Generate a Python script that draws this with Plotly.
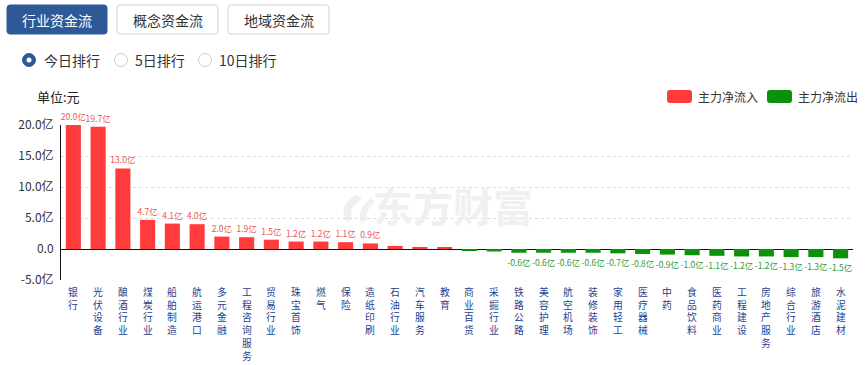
import plotly.graph_objects as go

# ---------------- data ----------------
categories = ["银行", "光伏设备", "酿酒行业", "煤炭行业", "船舶制造", "航运港口", "多元金融",
              "工程咨询服务", "贸易行业", "珠宝首饰", "燃气", "保险", "造纸印刷", "石油行业",
              "汽车服务", "教育", "商业百货", "采掘行业", "铁路公路", "美容护理", "航空机场",
              "装修装饰", "家用轻工", "医疗器械", "中药", "食品饮料", "医药商业", "工程建设",
              "房地产服务", "综合行业", "旅游酒店", "水泥建材"]
net_flow = [20.0, 19.7, 13.0, 4.7, 4.1, 4.0, 2.0, 1.9, 1.5, 1.2, 1.2, 1.1, 0.9, 0.5,
            0.3, 0.2, -0.3, -0.4, -0.6, -0.6, -0.6, -0.6, -0.7, -0.8, -0.9, -1.0, -1.1, -1.2,
            -1.2, -1.3, -1.3, -1.5]
hidden_labels = ["石油行业", "汽车服务", "教育", "商业百货", "采掘行业"]
ytick_vals = [-5, 0, 5, 10, 15, 20]
ytick_text = ["-5.0亿", "0.0", "5.0亿", "10.0亿", "15.0亿", "20.0亿"]
legend_names = ["主力净流入", "主力净流出"]
tab_names = ["行业资金流", "概念资金流", "地域资金流"]
radio_names = ["今日排行", "5日排行", "10日排行"]
unit_text = "单位:元"
watermark_text = "东方财富"

# ---------------- style ----------------
FONT = "Noto Sans CJK SC, Microsoft YaHei, sans-serif"
RED, GREEN = "#ff3b3b", "#0a920a"
RED_TXT, GREEN_TXT = "#ee5555", "#2f9a2f"
BLUE = "#2f5897"
W, H = 867, 365
L, R, T, B = 61, 14, 125, 85
PW, PH = W - L - R, H - T - B


def px(x):
    return (x - L) / PW


def py(y):
    return (H - B - y) / PH


def rrect(x0, y0, x1, y1, r):
    return (f"M {px(x0 + r)},{py(y0)} L {px(x1 - r)},{py(y0)} Q {px(x1)},{py(y0)} {px(x1)},{py(y0 + r)} "
            f"L {px(x1)},{py(y1 - r)} Q {px(x1)},{py(y1)} {px(x1 - r)},{py(y1)} "
            f"L {px(x0 + r)},{py(y1)} Q {px(x0)},{py(y1)} {px(x0)},{py(y1 - r)} "
            f"L {px(x0)},{py(y0 + r)} Q {px(x0)},{py(y0)} {px(x0 + r)},{py(y0)} Z")


colors = [RED if v >= 0 else GREEN for v in net_flow]
text_colors = [RED_TXT if v >= 0 else GREEN_TXT for v in net_flow]
texts = ["" if c in hidden_labels else f"{v:.1f}亿" for c, v in zip(categories, net_flow)]

fig = go.Figure()
fig.add_trace(go.Bar(
    x=categories, y=net_flow, marker=dict(color=colors, line=dict(width=0)),
    text=texts, textposition="outside", textfont=dict(size=8.5, color=text_colors, family=FONT),
    constraintext="none", cliponaxis=False, showlegend=False, hoverinfo="x+y",
))

shapes = []
annotations = []

# watermark (logo swirl + text)
shapes.append(dict(type="path", xref="paper", yref="paper", layer="below",
                   path=(f"M {px(356)},{py(195)} Q {px(338)},{py(204)} {px(346)},{py(222)} "
                         f"L {px(352)},{py(219)} Q {px(348)},{py(207)} {px(362)},{py(199)} Z "
                         f"M {px(371)},{py(198)} Q {px(356)},{py(210)} {px(361)},{py(223)} "
                         f"L {px(367)},{py(220)} Q {px(365)},{py(210)} {px(375)},{py(202)} Z"),
                   fillcolor="#f0f0f0", line=dict(width=0)))
annotations.append(dict(x=px(453), y=py(205), xref="paper", yref="paper", text=f"<b>{watermark_text}</b>",
                        showarrow=False, xanchor="center", yanchor="middle",
                        font=dict(size=40, color="#f0f0f0", family=FONT)))

# tabs
tab_boxes = [(7, 117, 228), (107, 218, 329)]
for i, name in enumerate(tab_names):
    x0, x1 = tab_boxes[0][i], tab_boxes[1][i]
    active = i == 0
    shapes.append(dict(type="path", xref="paper", yref="paper", path=rrect(x0, 5, x1, 34, 3),
                       fillcolor=BLUE if active else "white",
                       line=dict(color=BLUE if active else "#cfd3da", width=1)))
    annotations.append(dict(x=px((x0 + x1) / 2), y=py(20), xref="paper", yref="paper", text=name,
                            showarrow=False, xanchor="center", yanchor="middle",
                            font=dict(size=14, color="white" if active else "#333", family=FONT)))

# radios
radio_cx = [29, 121, 205]
radio_tx = [42, 133, 217]
for i, name in enumerate(radio_names):
    cx = radio_cx[i]
    r = 6.5
    if i == 0:
        shapes.append(dict(type="circle", xref="paper", yref="paper", x0=px(cx - r), x1=px(cx + r),
                           y0=py(60 + r), y1=py(60 - r), fillcolor=BLUE, line=dict(color=BLUE, width=1)))
        shapes.append(dict(type="circle", xref="paper", yref="paper", x0=px(cx - 2.5), x1=px(cx + 2.5),
                           y0=py(62.5), y1=py(57.5), fillcolor="white", line=dict(width=0)))
    else:
        shapes.append(dict(type="circle", xref="paper", yref="paper", x0=px(cx - r), x1=px(cx + r),
                           y0=py(60 + r), y1=py(60 - r), fillcolor="white", line=dict(color="#cccccc", width=1)))
    annotations.append(dict(x=px(radio_tx[i]), y=py(60), xref="paper", yref="paper", text=name,
                            showarrow=False, xanchor="left", yanchor="middle",
                            font=dict(size=14, color="#333", family=FONT)))

# unit
annotations.append(dict(x=px(35), y=py(96), xref="paper", yref="paper", text=unit_text, showarrow=False,
                        xanchor="left", yanchor="middle", font=dict(size=13, color="#222", family=FONT)))

# legend
leg_x = [667, 767]
for i, name in enumerate(legend_names):
    x0 = leg_x[i]
    shapes.append(dict(type="path", xref="paper", yref="paper", path=rrect(x0, 90, x0 + 25, 103, 3),
                       fillcolor=[RED, GREEN][i], line=dict(width=0)))
    annotations.append(dict(x=px(x0 + 29), y=py(96.5), xref="paper", yref="paper", text=name,
                            showarrow=False, xanchor="left", yanchor="middle",
                            font=dict(size=12, color="#333", family=FONT)))

# vertical category labels (one character per line, one text per category)
for cat in categories:
    annotations.append(dict(x=cat, xref="x", y=py(284), yref="paper", text="<br>".join(cat),
                            showarrow=False, xanchor="center", yanchor="top", align="center",
                            borderpad=0, font=dict(size=9.8, color="#1f3f8f", family=FONT)))

fig.update_layout(
    width=W, height=H, margin=dict(l=L, r=R, t=T, b=B, pad=0),
    paper_bgcolor="white", plot_bgcolor="white",
    bargap=0.39, font=dict(family=FONT),
    shapes=shapes, annotations=annotations, showlegend=False,
    xaxis=dict(type="category", showticklabels=False, showgrid=False, zeroline=False,
               showline=False, ticks="", range=[-0.5, len(categories) - 0.5]),
    yaxis=dict(range=[-5, 20], tickvals=ytick_vals, ticktext=ytick_text,
               tickfont=dict(size=12, color="#333", family=FONT),
               showgrid=True, gridcolor="#dddddd", griddash="dot", gridwidth=1,
               zeroline=True, zerolinecolor="#111111", zerolinewidth=1,
               showline=True, linecolor="#111111", linewidth=1,
               ticks="outside", ticklen=4, tickcolor="rgba(0,0,0,0)"),
)

fig.write_html("out.html", config={"displayModeBar": False},
               post_script="document.body.style.margin='0';document.body.style.overflow='hidden';")
